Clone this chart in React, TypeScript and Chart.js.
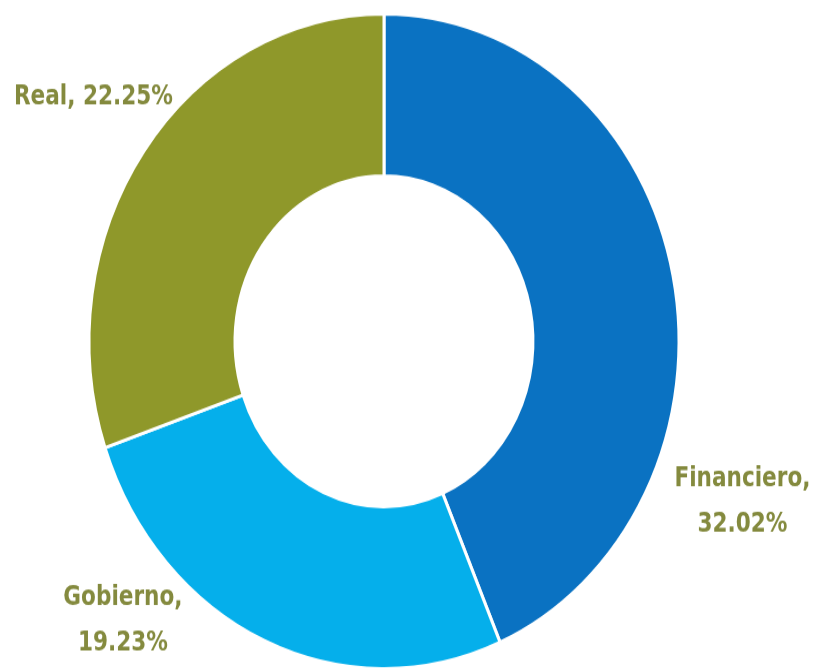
import React, { useEffect, useRef } from "react";
import { Chart, registerables } from "chart.js";

Chart.register(...registerables);

const categories = ["Financiero", "Gobierno", "Real"];
const values = [32.02, 19.23, 22.25];
const colors = ["#0a72c2", "#05afeb", "#8f982a"];
// label anchor directions, in units of the outer radius, relative to the centre
const labelLines = [
  ["Financiero,", "32.02%"],
  ["Gobierno,", "19.23%"],
  ["Real, 22.25%"],
];
const labelAnchors = [
  [1.215, 0.49],
  [-0.885, 0.855],
  [-0.985, -0.745],
];

const STRETCH = 1.11;

export default function App() {
  const ref = useRef<HTMLCanvasElement | null>(null);
  useEffect(() => {
    if (!ref.current) return;
    const labelPlugin = {
      id: "sliceLabels",
      afterDraw(chart: any) {
        const meta = chart.getDatasetMeta(0);
        const arc = meta.data[0];
        if (!arc) return;
        const cx = arc.x;
        const cy = arc.y;
        const r = arc.outerRadius;
        const ctx = chart.ctx;
        ctx.save();
        ctx.fillStyle = "#848a3e";
        ctx.font = "bold 24px 'DejaVu Sans Condensed', 'DejaVu Sans', sans-serif";
        ctx.textAlign = "center";
        ctx.textBaseline = "middle";
        labelLines.forEach((lines, i) => {
          const [ax, ay] = labelAnchors[i];
          const x = cx + ax * r;
          const y = cy + ay * r;
          const lh = 41;
          const start = y - ((lines.length - 1) * lh) / 2;
          lines.forEach((t, j) => ctx.fillText(t, x, start + j * lh));
        });
        ctx.restore();
      },
    };
    const chart = new Chart(ref.current, {
      type: "doughnut",
      data: {
        labels: categories,
        datasets: [
          {
            data: values,
            backgroundColor: colors,
            borderColor: "#ffffff",
            borderWidth: 3,
          },
        ],
      },
      options: {
        responsive: false,
        animation: false,
        cutout: "50.5%",
        layout: { padding: { left: 86, right: 132, top: 11, bottom: 0 } },
        plugins: {
          legend: { display: false },
          tooltip: { enabled: false },
        },
      },
      plugins: [labelPlugin],
    });
    return () => chart.destroy();
  }, []);

  return (
    <div
      style={{
        position: "fixed",
        left: 0,
        top: 0,
        width: 814,
        height: 670,
        overflow: "hidden",
        background: "#ffffff",
      }}
    >
      <div style={{ transform: `scaleY(${STRETCH})`, transformOrigin: "0 0", width: 814 }}>
        <canvas ref={ref} width={814} height={604} style={{ display: "block" }} />
      </div>
    </div>
  );
}
